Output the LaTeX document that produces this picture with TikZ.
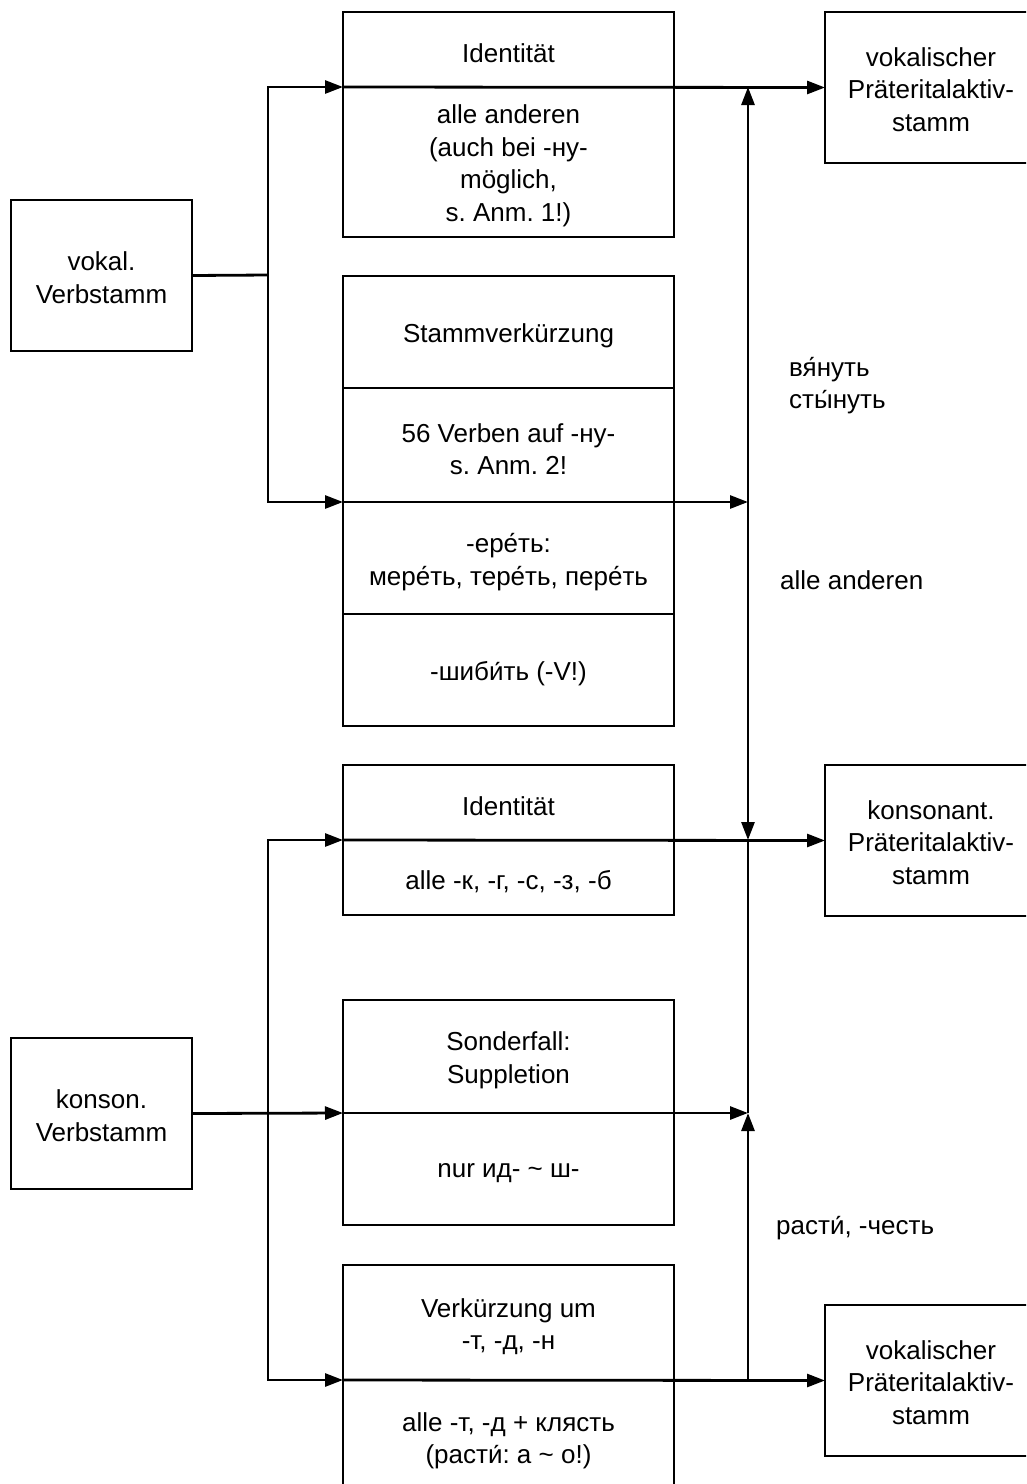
\documentclass[tikz,border=0pt]{standalone}
\usepackage{fontspec}
\setmainfont{Liberation Sans}
\usetikzlibrary{arrows.meta}
\frenchspacing
\begin{document}
\begin{tikzpicture}[x=1pt,y=-1pt,
  every node/.style={font=\fontsize{26}{32.5}\selectfont},
  frame/.style={draw, line width=2.8pt, inner sep=0pt, outer sep=0pt,
    anchor=north west},
  cell/.style={frame, minimum width=331pt},
  side/.style={frame, minimum height=151pt},
  lbl/.style={align=center, inner sep=0pt, yshift=#1},
  txt/.style={label={[lbl=-4pt]center:{#1}}},
  stxt/.style={label={[lbl=-2pt]center:{#1}}},
  conn/.style={line width=2.8pt},
  arr/.style={conn, -{Triangle[length=18pt,width=13pt]}},
  note/.style={anchor=west, align=left, inner sep=0pt}]
\useasboundingbox (0,0) rectangle (1026,1484);
\clip (0,0) rectangle (1026,1484);

% source stems
\node[side, minimum width=181pt, stxt={vokal.\\Verbstamm}] (L1) at (11,200) {};
\node[side, minimum width=181pt, stxt={konson.\\Verbstamm}] (L2) at (11,1038) {};

% result stems
\node[side, minimum width=212pt, stxt={vokalischer\\Präteritalaktiv-\\stamm}] (R1) at (825,12) {};
\node[side, minimum width=212pt, stxt={konsonant.\\Präteritalaktiv-\\stamm}] (R2) at (825,765) {};
\node[side, minimum width=212pt, stxt={vokalischer\\Präteritalaktiv-\\stamm}] (R3) at (825,1305) {};

% vowel stem: identity
\node[cell, minimum height=75pt, txt={Identität}] (A1a) at (343,12) {};
\node[cell, minimum height=150pt, txt={alle anderen\\(auch bei -ну-\\möglich,\\s. Anm. 1!)}] (A1b) at (343,87) {};

% vowel stem: shortening
\node[cell, minimum height=112pt, txt={Stammverkürzung}] (A2a) at (343,276) {};
\node[cell, minimum height=114pt, txt={56 Verben auf -ну-\\s. Anm. 2!}] (A2b) at (343,388) {};
\node[cell, minimum height=112pt, txt={-ере́ть:\\мере́ть, тере́ть, пере́ть}] (A2c) at (343,502) {};
\node[cell, minimum height=112pt, txt={-шиби́ть (-V!)}] (A2d) at (343,614) {};

% consonant stem: identity
\node[cell, minimum height=75pt, txt={Identität}] (A3a) at (343,765) {};
\node[cell, minimum height=75pt, txt={alle -к, -г, -с, -з, -б}] (A3b) at (343,840) {};

% consonant stem: suppletion
\node[cell, minimum height=113pt, txt={Sonderfall:\\Suppletion}] (A4a) at (343,1000) {};
\node[cell, minimum height=112pt, txt={nur ид- \textasciitilde{} ш-}] (A4b) at (343,1113) {};

% consonant stem: shortening
\node[cell, minimum height=115pt, txt={Verkürzung um\\-т, -д, -н}] (A5a) at (343,1265) {};
\node[cell, minimum height=114pt, txt={alle -т, -д + клясть\\(расти́: а \textasciitilde{} о!)}] (A5b) at (343,1380) {};

% branch points
\coordinate (j1) at (268,275);
\coordinate (j2) at (268,1113);
\coordinate (v1) at (748,502);
\coordinate (v2) at (748,1113);
\coordinate (vtop) at (748,87);
\coordinate (vmid) at (748,840);
\coordinate (vbot) at (748,1380);

% vowel stem branches
\draw[conn] (L1.east) -- (j1);
\draw[arr] (j1) |- (A1a.south west);
\draw[arr] (A1a.south west) -- (R1.west);
\draw[arr] (j1) |- (A2b.south west);
\draw[arr] (A2b.south west) -- (v1);
\draw[arr] (v1) -- (vtop);
\draw[arr] (v1) -- (vmid);

% consonant stem branches
\draw[arr] (L2.east) -- (A4a.south west);
\draw[arr] (A4a.south west) -- (v2);
\draw[conn] (v2) -- (vmid);
\draw[arr] (j2) |- (A3a.south west);
\draw[arr] (A3a.south west) -- (R2.west);
\draw[arr] (j2) |- (A5a.south west);
\draw[arr] (A5a.south west) -- (R3.west);
\draw[arr] (vbot) -- (v2);

% branch labels
\node[note] (n1) at (789,386) {вя́нуть\\сты́нуть};
\node[note] (n2) at (780,580) {alle anderen};
\node[note] (n3) at (776,1228) {расти́, -честь};
\end{tikzpicture}
\end{document}
